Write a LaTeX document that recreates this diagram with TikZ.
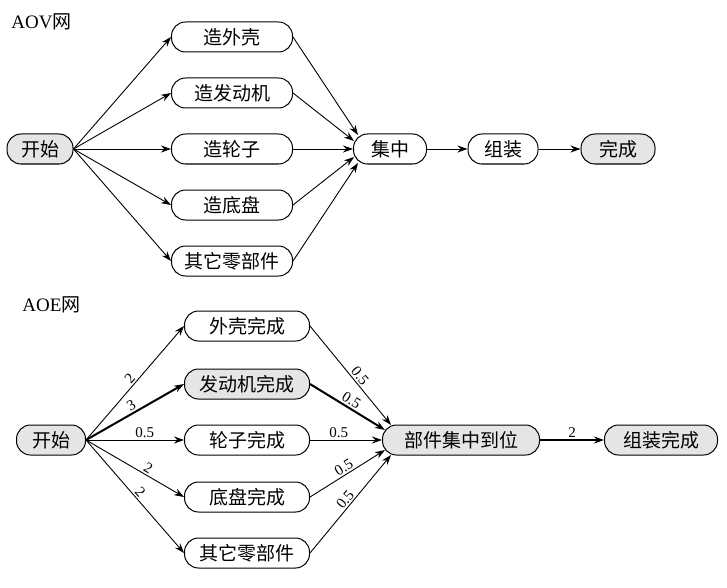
\documentclass[tikz,border=0pt]{standalone}
\usepackage{fontspec}
\setmainfont{Liberation Serif}
\newfontfamily\cjk{Noto Sans CJK SC}
\usetikzlibrary{arrows.meta}
\begin{document}
\begin{tikzpicture}[x=1pt,y=-1pt,line width=0.9pt,>={Stealth[length=10pt,width=7pt]},
  box/.style={draw,line width=1pt,rounded corners=14pt,minimum height=30pt,inner xsep=6pt,font=\cjk\fontsize{19}{22}\selectfont},
  gbox/.style={box,fill=black!10},
  num/.style={font=\fontsize{15}{17}\selectfont,inner sep=1.5pt},
  ttl/.style={right,inner sep=0pt,font=\fontsize{19}{22}\selectfont}]
\useasboundingbox (0,0) rectangle (727,588);
\node[ttl] (t1) at (11,22) {AOV{\cjk 网}};
\node[gbox,minimum width=66pt] (st) at (40,149) {开始};
\node[box,minimum width=121pt] (a1) at (232,37) {造外壳};
\node[box,minimum width=121pt] (a2) at (232,93) {造发动机};
\node[box,minimum width=121pt] (a3) at (232,149) {造轮子};
\node[box,minimum width=121pt] (a4) at (232,205) {造底盘};
\node[box,minimum width=121pt] (a5) at (232,261) {其它零部件};
\node[box,minimum width=73pt] (jz) at (390,149) {集中};
\node[box,minimum width=70pt] (zz) at (503,149) {组装};
\node[gbox,minimum width=74pt] (wc) at (618,149) {完成};
\foreach \i in {1,...,5}
  \draw[->] (st.east) -- (a\i.west);
\foreach \i/\dx/\dy in {1/5/-14,2/1/-8,3/0/0,4/1/8,5/5/14}
  \draw[->] (a\i.east) -- ([shift={(\dx,\dy)}]jz.west);
\draw[->] (jz) -- (zz);
\draw[->] (zz) -- (wc);
\node[ttl] (t2) at (22,305) {AOE{\cjk 网}};
\node[gbox,minimum width=69pt] (st2) at (51,440) {开始};
\node[box,minimum width=125pt] (b1) at (247,326) {外壳完成};
\node[gbox,minimum width=125pt] (b2) at (247,384) {发动机完成};
\node[box,minimum width=125pt] (b3) at (247,440) {轮子完成};
\node[box,minimum width=125pt] (b4) at (247,497) {底盘完成};
\node[box,minimum width=125pt] (b5) at (247,553) {其它零部件};
\node[gbox,minimum width=157pt] (bj) at (461,440) {部件集中到位};
\node[gbox,minimum width=113pt] (zw) at (661,440) {组装完成};
\draw[->] (st2.east) -- (b1.west) node[num,pos=0.5,above,sloped] {2};
\draw[->,line width=2pt] (st2.east) -- (b2.west) node[num,pos=0.5,above,sloped] {3};
\draw[->] (st2.east) -- (b3.west) node[num,pos=0.6,above] {0.5};
\draw[->] (st2.east) -- (b4.west) node[num,pos=0.6,above,sloped] {2};
\draw[->] (st2.east) -- (b5.west) node[num,pos=0.5,above,sloped] {2};
\draw[->] (b1.east) -- ([shift={(9,-15)}]bj.west) node[num,pos=0.55,above,sloped] {0.5};
\draw[->,line width=2pt] (b2.east) -- ([shift={(3,-10)}]bj.west) node[num,pos=0.5,above,sloped] {0.5};
\draw[->] (b3.east) -- (bj.west) node[num,pos=0.4,above] {0.5};
\draw[->] (b4.east) -- ([shift={(3,10)}]bj.west) node[num,pos=0.5,above,sloped] {0.5};
\draw[->] (b5.east) -- ([shift={(9,15)}]bj.west) node[num,pos=0.5,above,sloped] {0.5};
\draw[->,line width=2pt] (bj) -- (zw) node[num,midway,above] {2};
\end{tikzpicture}
\end{document}
